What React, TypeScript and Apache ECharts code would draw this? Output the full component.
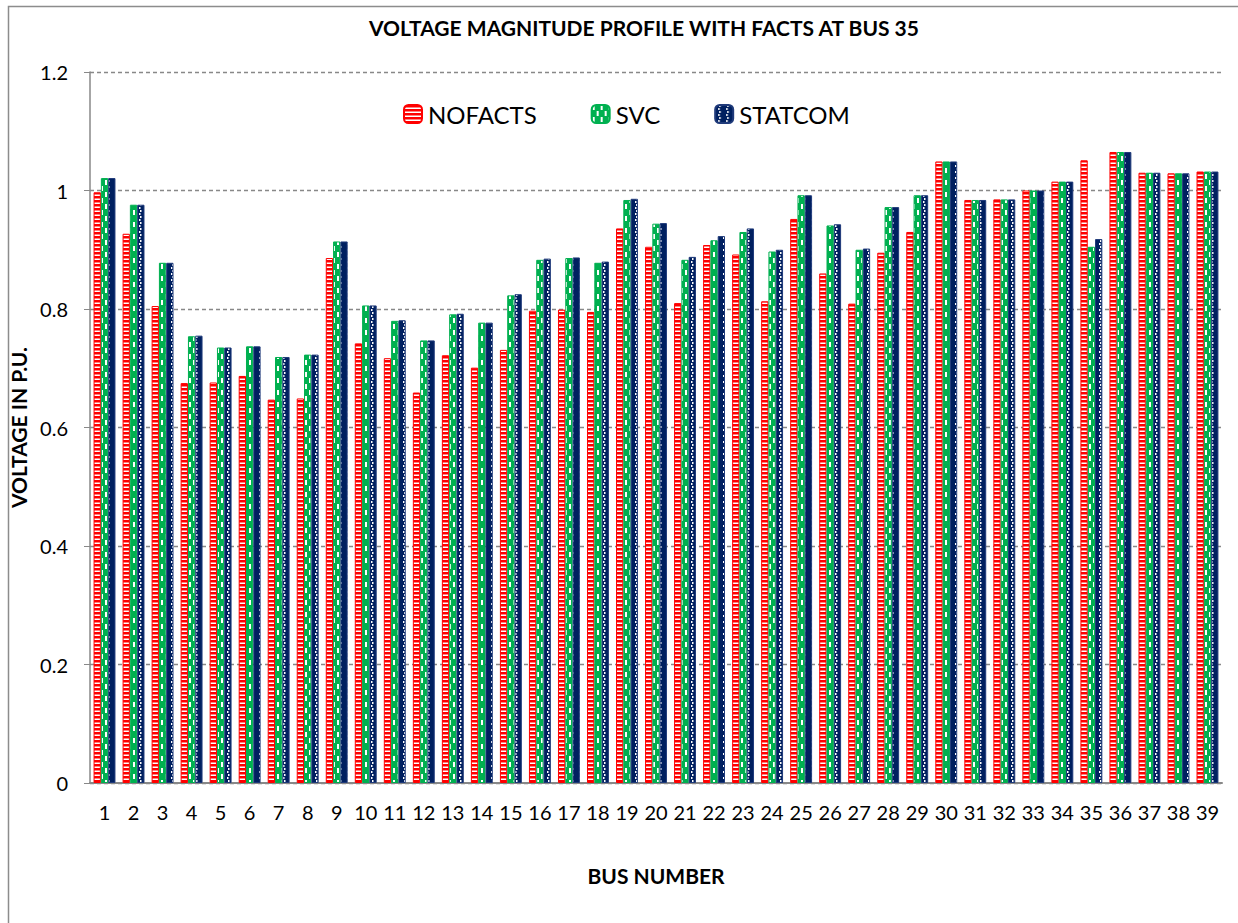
import React, { useEffect, useRef } from "react";
import * as echarts from "echarts";

const buses = Array.from({ length: 39 }, (_, i) => String(i + 1));

const nofacts = [
  0.997, 0.927, 0.805, 0.675, 0.676, 0.687, 0.647, 0.649, 0.886, 0.742,
  0.717, 0.659, 0.722, 0.701, 0.731, 0.797, 0.799, 0.795, 0.936, 0.905,
  0.810, 0.908, 0.892, 0.813, 0.952, 0.860, 0.809, 0.895, 0.930, 1.049,
  0.984, 0.985, 1.0, 1.015, 1.051, 1.065, 1.030, 1.029, 1.032,
];
const svc = [
  1.021, 0.976, 0.878, 0.754, 0.735, 0.737, 0.719, 0.723, 0.914, 0.806,
  0.780, 0.747, 0.791, 0.777, 0.823, 0.883, 0.886, 0.878, 0.984, 0.944,
  0.883, 0.916, 0.930, 0.897, 0.992, 0.941, 0.900, 0.972, 0.992, 1.049,
  0.984, 0.985, 1.0, 1.015, 0.905, 1.065, 1.030, 1.029, 1.032,
];
const statcom = [
  1.021, 0.976, 0.878, 0.755, 0.735, 0.737, 0.719, 0.723, 0.914, 0.806,
  0.781, 0.747, 0.792, 0.777, 0.825, 0.885, 0.887, 0.880, 0.986, 0.945,
  0.888, 0.923, 0.936, 0.900, 0.992, 0.943, 0.902, 0.972, 0.992, 1.049,
  0.984, 0.985, 1.0, 1.015, 0.918, 1.065, 1.030, 1.029, 1.032,
];

const FONT = "Lato, 'Open Sans', sans-serif";

function makePattern(kind: string): HTMLCanvasElement {
  const c = document.createElement("canvas");
  const ctx = c.getContext("2d")!;
  if (kind === "red") {
    c.width = 8;
    c.height = 4;
    ctx.fillStyle = "#ff0000";
    ctx.fillRect(0, 0, 8, 4);
    ctx.fillStyle = "#ffffff";
    ctx.fillRect(0, 2.5, 8, 1.5);
  } else if (kind === "green") {
    c.width = 8;
    c.height = 12;
    ctx.fillStyle = "#00b050";
    ctx.fillRect(0, 0, 8, 12);
    ctx.fillStyle = "#ffffff";
    ctx.fillRect(1, 0, 2, 5);
    ctx.fillRect(5, 6, 2, 5);
  } else {
    c.width = 8;
    c.height = 6;
    ctx.fillStyle = "#002060";
    ctx.fillRect(0, 0, 8, 6);
    ctx.fillStyle = "#ffffff";
    ctx.fillRect(4, 0, 1.5, 2);
    ctx.fillRect(3, 3, 1.5, 2);
  }
  return c;
}

export default function App() {
  const ref = useRef<HTMLDivElement>(null);
  useEffect(() => {
    if (!ref.current) return;
    const chart = echarts.init(ref.current, undefined, { renderer: "svg" });
    const pat = (k: string) => ({ image: makePattern(k), repeat: "repeat" });
    const mk = (name: string, data: number[], kind: string, border: string) => ({
      name,
      type: "bar",
      data,
      barWidth: 7.3,
      barGap: "0%",
      itemStyle: { color: pat(kind) as any, borderColor: border, borderWidth: 1 },
    });
    chart.setOption({
      animation: false,
      backgroundColor: "#ffffff",
      title: {
        text: "VOLTAGE MAGNITUDE PROFILE WITH FACTS AT BUS 35",
        left: 644,
        textAlign: "center",
        top: 17,
        padding: 0,
        textStyle: { fontFamily: FONT, fontWeight: "bold", fontSize: 21, color: "#000" },
      },
      legend: {
        left: 403,
        top: 102,
        padding: 0,
        itemWidth: 18,
        itemHeight: 18,
        itemGap: 54,
        textStyle: { fontFamily: FONT, fontSize: 24, color: "#000", padding: [0, 0, 0, 1] },
        data: ["NOFACTS", "SVC", "STATCOM"],
      },
      grid: { left: 90, top: 72, right: 16, bottom: 140 },
      xAxis: {
        type: "category",
        data: buses,
        name: "BUS NUMBER",
        nameLocation: "middle",
        nameGap: 82,
        nameTextStyle: { fontFamily: FONT, fontWeight: "bold", fontSize: 21, color: "#000" },
        axisLine: { lineStyle: { color: "#888", width: 2 } },
        axisTick: { show: false },
        axisLabel: { fontFamily: FONT, fontSize: 20, color: "#000", margin: 19, interval: 0 },
      },
      yAxis: {
        type: "value",
        min: 0,
        max: 1.2,
        interval: 0.2,
        name: "VOLTAGE IN P.U.",
        nameLocation: "middle",
        nameGap: 52,
        nameTextStyle: { fontFamily: FONT, fontWeight: "bold", fontSize: 21, color: "#000" },
        axisLine: { show: true, lineStyle: { color: "#888", width: 1.5 } },
        axisTick: { show: true, length: 6, lineStyle: { color: "#888" } },
        axisLabel: { fontFamily: FONT, fontSize: 20, color: "#000", margin: 22 },
        splitLine: { lineStyle: { color: "#888", type: [4, 3], width: 1.3 } },
      },
      graphic: [
        {
          type: "rect",
          shape: { x: 8.5, y: 6.5, width: 1240, height: 930 },
          style: { fill: "none", stroke: "#8c8c8c", lineWidth: 1.5 },
          silent: true,
        },
      ],
      series: [
        mk("NOFACTS", nofacts, "red", "#ff0000"),
        mk("SVC", svc, "green", "#00b050"),
        mk("STATCOM", statcom, "blue", "#1f3a7a"),
      ],
    });
    return () => chart.dispose();
  }, []);
  return (
    <div
      ref={ref}
      style={{ position: "absolute", left: 0, top: 0, width: 1238, height: 923 }}
    />
  );
}
